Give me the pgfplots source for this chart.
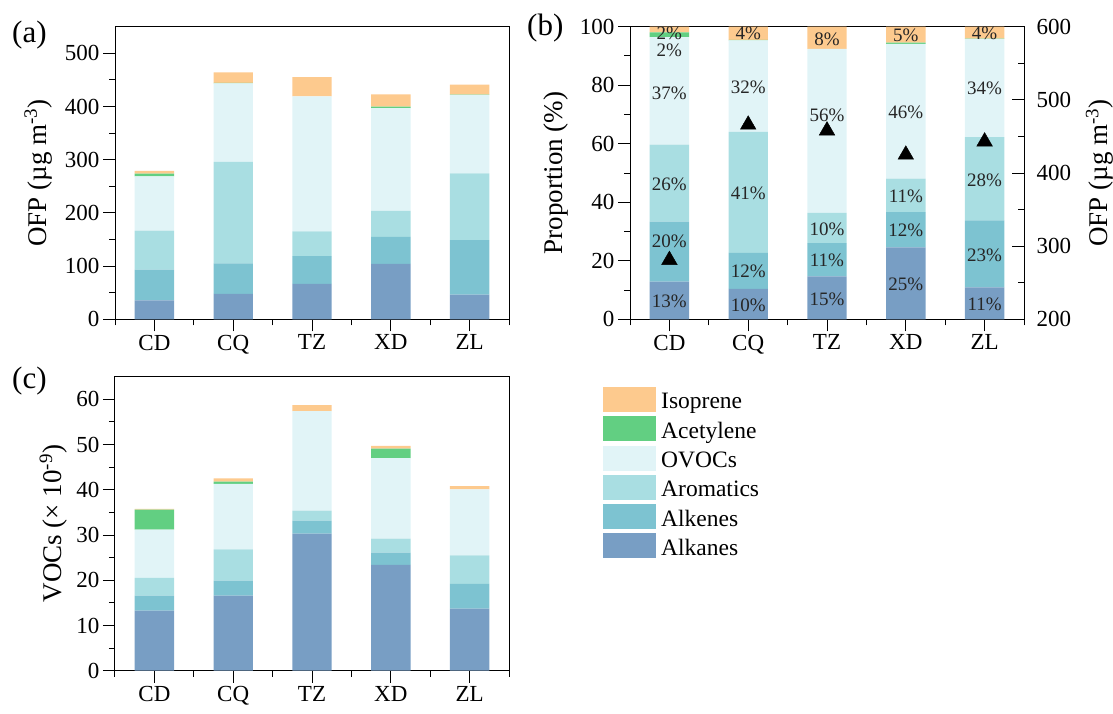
\documentclass[border=0pt]{standalone}
\usepackage{fontspec}
\setmainfont{Liberation Serif}
\usepackage{pgfplots}
\usepackage{pgfplotstable}
\pgfplotsset{compat=1.18}

\definecolor{cAlk}{HTML}{789EC4}
\definecolor{cAlke}{HTML}{7DC3D1}
\definecolor{cArom}{HTML}{A9DEE2}
\definecolor{cOvoc}{HTML}{E1F4F7}
\definecolor{cAcet}{HTML}{62CF82}
\definecolor{cIsop}{HTML}{FDCA8E}

% panel (a): OFP increments (ug m-3)
\pgfplotstableread{
x alk alke arom ovoc acet isop
0 35.7 57.7 73.3 102.0 5.3 5.0
1 47.6 57.4 191.0 147.6 0.8 19.6
2 66.4 52.6 46.4 253.6 0.0 36.0
3 104.0 50.8 48.8 193.4 3.0 23.0
4 46.4 102.6 125.4 147.3 0.5 18.8
}\tabA
% panel (b): proportions (%)
\pgfplotstableread{
x alk alke arom ovoc acet isop
0 12.9 20.5 26.3 36.7 1.7 1.9
1 10.4 12.3 41.4 31.2 0.2 4.5
2 14.7 11.3 10.4 56.0 0.0 7.6
3 24.6 12.0 11.5 46.0 0.5 5.4
4 10.9 22.9 28.5 33.5 0.1 4.1
}\tabB
% panel (b): labels (position in %, value)
\pgfplotstableread{
x y v
0 6.0 13
0 26.5 20
0 46.1 26
0 77.4 37
0 91.8 2
0 97.7 2
1 4.9 10
1 16.3 12
1 43.1 41
1 79.3 32
1 97.7 4
2 6.9 15
2 20.0 11
2 30.8 10
2 69.6 56
2 95.8 8
3 12.0 25
3 30.5 12
3 41.9 11
3 70.6 46
3 97.2 5
4 5.2 11
4 22.0 23
4 47.6 28
4 78.9 34
4 97.7 4
}\tabBlab
% panel (b): total OFP (triangles)
\pgfplotstableread{
x ofp
0 281
1 466
2 458
3 425
4 443
}\tabBtot
% panel (c): VOCs mixing ratios (x 10^-9)
\pgfplotstableread{
x alk alke arom ovoc acet isop
0 13.3 3.3 3.9 10.7 4.4 0.2
1 16.6 3.3 6.9 14.5 0.5 0.7
2 30.3 2.9 2.2 22.0 0.0 1.3
3 23.4 2.7 3.1 17.8 2.1 0.6
4 13.7 5.5 6.3 14.6 0.0 0.7
}\tabC

\pgfplotsset{
  base/.style={
    scale only axis, width=394pt, height=292.6pt,
    xmin=-0.5, xmax=4.5,
    /pgf/number format/assume math mode=true,
  },
  common/.style={
    base,
    xtick={0,...,4}, xticklabels={CD,CQ,TZ,XD,ZL},
    minor xtick={-0.5,0.5,1.5,2.5,3.5,4.5},
    tick align=outside, tick pos=left,
    major tick length=12pt, minor tick length=6pt,
    tick style={black, line width=1pt},
    axis line style={line width=1pt},
    ticklabel style={font=\fontsize{23}{27}\selectfont},
    label style={font=\fontsize{27}{31}\selectfont},
    ybar stacked, bar width=0.5,
  },
}

\begin{document}
\begin{tikzpicture}
\useasboundingbox (0pt,0pt) rectangle (1113pt,-713pt);

% ---------------- (a)
\begin{axis}[common, at={(115pt,-319.3pt)}, anchor=south west,
  ymin=0, ymax=550, ytick={0,100,...,500}, minor ytick={50,150,...,450},
  ylabel={OFP (µg m\textsuperscript{-3})},
  ylabel style={at={(axis description cs:-0.195,0.5)}, anchor=center}]
\addplot[fill=cAlk, draw=none] table[x=x, y=alk] {\tabA};
\addplot[fill=cAlke, draw=none] table[x=x, y=alke] {\tabA};
\addplot[fill=cArom, draw=none] table[x=x, y=arom] {\tabA};
\addplot[fill=cOvoc, draw=none] table[x=x, y=ovoc] {\tabA};
\addplot[fill=cAcet, draw=none] table[x=x, y=acet] {\tabA};
\addplot[fill=cIsop, draw=none] table[x=x, y=isop] {\tabA};
\end{axis}

% ---------------- (b) bars
\begin{axis}[common, at={(630pt,-319.3pt)}, anchor=south west,
  ymin=0, ymax=100, ytick={0,20,...,100}, minor ytick={10,30,...,90},
  ylabel={Proportion (\%)},
  ylabel style={at={(axis description cs:-0.188,0.5)}, anchor=center}]
\addplot[fill=cAlk, draw=none] table[x=x, y=alk] {\tabB};
\addplot[fill=cAlke, draw=none] table[x=x, y=alke] {\tabB};
\addplot[fill=cArom, draw=none] table[x=x, y=arom] {\tabB};
\addplot[fill=cOvoc, draw=none] table[x=x, y=ovoc] {\tabB};
\addplot[fill=cAcet, draw=none] table[x=x, y=acet] {\tabB};
\addplot[fill=cIsop, draw=none] table[x=x, y=isop] {\tabB};
\end{axis}
% (b) percentage labels
\begin{axis}[base, at={(630pt,-319.3pt)}, anchor=south west,
  ymin=0, ymax=100, hide axis, clip=false]
\addplot[only marks, mark=*, mark size=0pt,
  scatter/use mapped color={draw=none, fill=none},
  mark options={draw=none, fill=none},
  point meta=explicit,
  nodes near coords={\pgfmathprintnumber[fixed,precision=0]{\pgfplotspointmeta}\%},
  nodes near coords style={anchor=center, inner sep=0pt, text=black!85,
    font=\fontsize{19}{22}\selectfont}]
  table[x=x, y=y, meta=v] {\tabBlab};
\end{axis}
% (b) right axis with total OFP
\begin{axis}[base, at={(630pt,-319.3pt)}, anchor=south west,
  axis y line*=right, axis x line=none,
  ymin=200, ymax=600, ytick={200,300,...,600}, minor ytick={250,350,...,550},
  tick align=inside, major tick length=12pt, minor tick length=6pt,
  tick style={black, line width=1pt},
  axis line style={line width=1pt},
  ticklabel style={font=\fontsize{23}{27}\selectfont},
  yticklabel style={xshift=9pt},
  label style={font=\fontsize{27}{31}\selectfont},
  ylabel={OFP (µg m\textsuperscript{-3})},
  ylabel style={at={(axis description cs:1.192,0.5)}, anchor=center}]
\addplot[only marks, mark=triangle*, mark size=9pt, black] table[x=x, y=ofp] {\tabBtot};
\end{axis}

% ---------------- (c)
\begin{axis}[common, at={(115pt,-670.7pt)}, anchor=south west, height=294pt,
  ymin=0, ymax=65, ytick={0,10,...,60}, minor ytick={5,15,...,55},
  ylabel={VOCs (× 10\textsuperscript{-9})},
  ylabel style={at={(axis description cs:-0.157,0.5)}, anchor=center},
  reverse legend,
  legend image code/.code={\fill[#1, draw=none] (0pt,-10.5pt) rectangle (53pt,14.5pt);},
  legend style={at={(axis description cs:1.2386,0.966)}, anchor=north west,
    draw=none, fill=none, inner sep=0pt, row sep=4.3pt,
    nodes={inner sep=0pt}, column sep=5pt,
    font=\fontsize{23.5}{27}\selectfont},
  legend cell align=left]
\addplot[fill=cAlk, draw=none] table[x=x, y=alk] {\tabC};
\addlegendentry{Alkanes}
\addplot[fill=cAlke, draw=none] table[x=x, y=alke] {\tabC};
\addlegendentry{Alkenes}
\addplot[fill=cArom, draw=none] table[x=x, y=arom] {\tabC};
\addlegendentry{Aromatics}
\addplot[fill=cOvoc, draw=none] table[x=x, y=ovoc] {\tabC};
\addlegendentry{OVOCs}
\addplot[fill=cAcet, draw=none] table[x=x, y=acet] {\tabC};
\addlegendentry{Acetylene}
\addplot[fill=cIsop, draw=none] table[x=x, y=isop] {\tabC};
\addlegendentry{Isoprene}
\end{axis}

% panel letters
\node[anchor=base west, inner sep=0pt, font=\fontsize{31}{35}\selectfont] at (12pt,-42pt) {(a)};
\node[anchor=base west, inner sep=0pt, font=\fontsize{31}{35}\selectfont] at (527pt,-35pt) {(b)};
\node[anchor=base west, inner sep=0pt, font=\fontsize{31}{35}\selectfont] at (12pt,-388pt) {(c)};
\end{tikzpicture}
\end{document}
